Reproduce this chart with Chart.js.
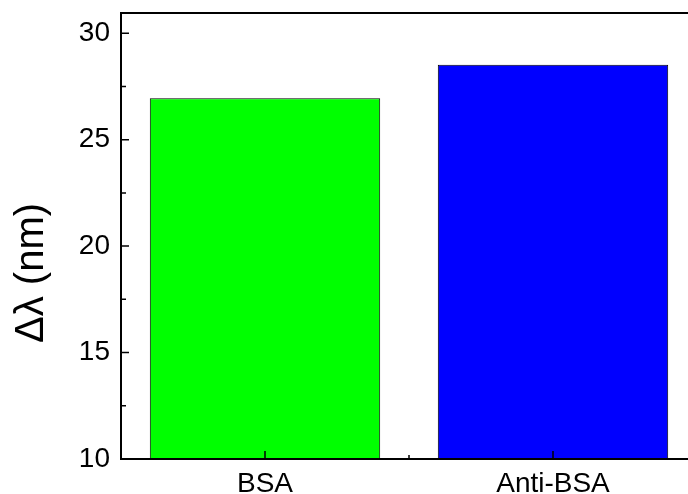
<!DOCTYPE html>
<html>
<head>
<meta charset="utf-8">
<script src="https://cdn.jsdelivr.net/npm/chart.js@4/dist/chart.umd.min.js"></script>
<style>
    html, body { margin: 0; padding: 0; overflow: hidden; background: #fff; }
    #wrap { width: 700px; height: 494px; }
</style>
</head>
<body>
<div id="wrap"><canvas id="chart" width="700" height="494"></canvas></div>
<script>
// Data
const categories = ['BSA', 'Anti-BSA'];
const shiftValues = [26.95, 28.52];
const barColors = ['#00ff00', '#0000ff'];
const yTickValues = [10, 15, 20, 25, 30];
const yMin = 10;
const yMax = 30.95;
const yStep = 5;
const yTitle = 'Δλ (nm)';

const FONT = '"Liberation Sans", Arial, sans-serif';

// Frame, inward ticks and rotated axis title
const framePlugin = {
    id: 'frame',
    afterDraw(chart) {
        const ctx = chart.ctx;
        const area = chart.chartArea;
        const x = chart.scales.x;
        const y = chart.scales.y;
        ctx.save();
        ctx.strokeStyle = '#000';
        ctx.lineWidth = 2;
        ctx.strokeRect(area.left, area.top, area.right - area.left, area.bottom - area.top);

        ctx.lineWidth = 1.5;
        ctx.beginPath();
        // y major + minor ticks
        y.ticks.forEach(t => {
            const py = y.getPixelForValue(t.value);
            ctx.moveTo(area.left, py);
            ctx.lineTo(area.left + 8, py);
            if (t.value + yStep / 2 < yMax) {
                const my = y.getPixelForValue(t.value + yStep / 2);
                ctx.moveTo(area.left, my);
                ctx.lineTo(area.left + 5, my);
            }
        });
        // x major ticks at categories, minor between them
        categories.forEach((c, i) => {
            const px = x.getPixelForValue(i);
            ctx.moveTo(px, area.bottom);
            ctx.lineTo(px, area.bottom - 8);
            if (i < categories.length - 1) {
                const mx = (px + x.getPixelForValue(i + 1)) / 2;
                ctx.moveTo(mx, area.bottom);
                ctx.lineTo(mx, area.bottom - 4);
            }
        });
        ctx.stroke();

        // y axis title
        ctx.translate(32, 273);
        ctx.rotate(-Math.PI / 2);
        ctx.fillStyle = '#000';
        ctx.font = '40px ' + FONT;
        ctx.textAlign = 'center';
        ctx.textBaseline = 'middle';
        ctx.fillText(yTitle, 0, 0);
        ctx.restore();
    }
};

new Chart(document.getElementById('chart').getContext('2d'), {
    type: 'bar',
    data: {
        labels: categories,
        datasets: [{
            data: shiftValues,
            backgroundColor: barColors,
            borderColor: '#000',
            borderWidth: 1,
            categoryPercentage: 0.8,
            barPercentage: 1
        }]
    },
    options: {
        responsive: false,
        animation: false,
        events: [],
        layout: { padding: { top: 13, right: 3, left: 0, bottom: 0 } },
        plugins: {
            legend: { display: false },
            tooltip: { enabled: false }
        },
        scales: {
            x: {
                grid: { display: false, drawTicks: false },
                border: { display: false },
                ticks: { color: '#000', font: { family: FONT, size: 28 }, padding: 8 },
                afterFit(scale) {
                    scale.height = 35;
                    scale.paddingLeft = 0;
                    scale.paddingRight = 0;
                }
            },
            y: {
                min: yMin,
                max: yMax,
                grid: { display: false, drawTicks: false },
                border: { display: false },
                ticks: { stepSize: yStep, color: '#000', font: { family: FONT, size: 28 }, padding: 11 },
                afterBuildTicks(scale) {
                    scale.ticks = yTickValues.map(v => ({ value: v }));
                },
                afterFit(scale) {
                    scale.width = 121;
                    scale.paddingTop = 0;
                    scale.paddingBottom = 0;
                }
            }
        }
    },
    plugins: [framePlugin]
});
</script>
</body>
</html>
